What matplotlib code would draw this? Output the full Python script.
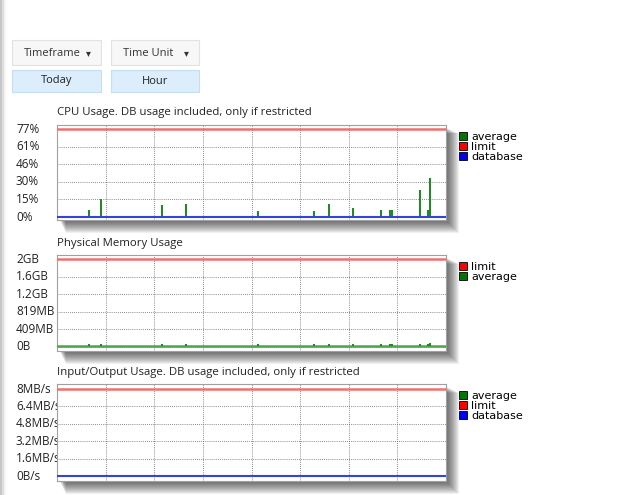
import matplotlib
matplotlib.use("Agg")
import matplotlib.pyplot as plt
from matplotlib.patches import Rectangle, Patch
from matplotlib.transforms import blended_transform_factory

W, H = 624, 495

# ---- data ----
hours = [0, 24]
hour_grid = [3, 6, 9, 12, 15, 18, 21]

cpu_spike_t = [1.97, 2.7, 6.48, 7.96, 12.4, 15.84, 16.78, 18.26, 19.99, 20.54, 20.67, 22.38, 22.9, 23.0]
cpu_spike_v = [6, 15.7, 10.5, 11.6, 5.5, 5.5, 11, 7.5, 6, 6, 6, 24, 6.5, 34]
cpu_limit = 77
cpu_db = 0
cpu_ticks = [0, 15.4, 30.8, 46.2, 61.6, 77]
cpu_labels = ["0%", "15%", "30%", "46%", "61%", "77%"]

mem_spike_t = [1.97, 2.7, 6.48, 7.96, 12.4, 15.84, 16.78, 18.26, 19.99, 20.54, 20.67, 22.38, 22.9, 23.0]
mem_spike_v = [55, 60, 55, 50, 45, 50, 55, 50, 45, 50, 50, 60, 45, 85]
mem_base = 12
mem_limit = 2048
mem_ticks = [0, 409.6, 819.2, 1228.8, 1638.4, 2048]
mem_labels = ["0B", "409MB", "819MB", "1.2GB", "1.6GB", "2GB"]

io_spike_t = [12.4]
io_spike_v = [0.08]
io_limit = 8
io_db = 0
io_ticks = [0, 1.6, 3.2, 4.8, 6.4, 8]
io_labels = ["0B/s", "1.6MB/s", "3.2MB/s", "4.8MB/s", "6.4MB/s", "8MB/s"]

GREEN = "#1e8c1e"
RED = "#f07070"
BLUE = "#3344dd"
FONT = ["Open Sans", "DejaVu Sans"]

fig = plt.figure(figsize=(W / 100, H / 100), dpi=100)
fig.patch.set_facecolor("white")


def fr(x0, y0, x1, y1):
    return [x0 / W, 1 - y1 / H, (x1 - x0) / W, (y1 - y0) / H]


def px_rect(x0, y0, x1, y1, **kw):
    r = Rectangle((x0 / W, 1 - y1 / H), (x1 - x0) / W, (y1 - y0) / H,
                  transform=fig.transFigure, **kw)
    fig.patches.append(r)
    return r


# page left shadow
for i, a in enumerate([0.10, 0.07, 0.04, 0.02]):
    px_rect(0, 0, 2 + i * 1.5, H, facecolor="black", edgecolor="none", alpha=a, zorder=-5)

# buttons
btns = [(12, 101, "Timeframe", "Today"), (111, 199, "Time Unit", "Hour")]
for x0, x1, top, sub in btns:
    px_rect(x0, 40, x1, 65, facecolor="#f7f7f7", edgecolor="#e2e2e2", lw=0.8)
    px_rect(x0, 70, x1, 92, facecolor="#dcedfc", edgecolor="#c6def3", lw=0.8)
    fig.text((x0 + 12) / W, 1 - 53 / H, top, ha="left", va="center",
             fontsize=8, family=FONT, color="#333333")
    fig.text((x1 - 13) / W, 1 - 53 / H, "▾", ha="center", va="center",
             fontsize=7, family=["DejaVu Sans"], color="#333333")
    fig.text((x0 + x1) / 2 / W, 1 - 81 / H, sub, ha="center", va="center",
             fontsize=8, family=FONT, color="#222222")


def chart(box, title, ylim, ticks, labels, avg_t, avg_v, limit, db, base, legend_items):
    x0, y0, x1, y1 = box
    # drop shadow
    for k in range(12):
        px_rect(x0 + 3 + k * 0.5, y0 + 3 + k * 0.5, x1 + 2 + k, y1 + 2 + k,
                facecolor="black", edgecolor="none", alpha=0.06, zorder=-3)
    ax = fig.add_axes(fr(x0, y0, x1, y1))
    ax.set_xlim(hours)
    ax.set_ylim(ylim)
    ax.set_xticks(hour_grid)
    ax.set_yticks(ticks)
    ax.tick_params(length=0, labelleft=False, labelbottom=False)
    ax.grid(True, color="#666666", linestyle=(0, (1, 1.5)), lw=0.6)
    for s in ax.spines.values():
        s.set_color("#a0a0a0")
        s.set_linewidth(0.8)
    if base is not None:
        ax.axhline(base, color="#4aa84a", lw=1.8, zorder=3)
    ax.bar(avg_t, avg_v, width=0.14, bottom=0 if base is None else base,
           color=GREEN, zorder=3)
    ax.axhline(limit, color=RED, lw=1.8, zorder=4)
    if db is not None:
        ax.axhline(db, color=BLUE, lw=1.5, zorder=5)
    fig.text(x0 / W, 1 - (y0 - 12) / H, title, ha="left", va="center",
             fontsize=8.2, family=FONT, color="#222222")
    tr = blended_transform_factory(fig.transFigure, ax.transData)
    for t, lab in zip(ticks, labels):
        fig.text(16 / W, t, lab, transform=tr, ha="left", va="center",
                 fontsize=8.5, family=FONT, color="#222222", zorder=-1)
    handles = [Patch(facecolor=c, edgecolor="black", lw=0.6, label=l) for l, c in legend_items]
    fig.legend(handles=handles, loc="upper left",
               bbox_to_anchor=(459 / W, 1 - (y0 + 7) / H), frameon=False,
               prop={"family": "DejaVu Sans", "size": 8},
               handlelength=0.75, handleheight=0.75, handletextpad=0.35,
               labelspacing=0.0, borderpad=0, borderaxespad=0)
    return ax


chart((57, 125, 446, 220), "CPU Usage. DB usage included, only if restricted",
      (-2.6, 80.5), cpu_ticks, cpu_labels, cpu_spike_t, cpu_spike_v,
      cpu_limit, cpu_db, None,
      [("average", "#007700"), ("limit", "#ff0000"), ("database", "#0000ff")])

chart((57, 255, 446, 351), "Physical Memory Usage",
      (-100, 2148), mem_ticks, mem_labels, mem_spike_t, mem_spike_v,
      mem_limit, None, mem_base,
      [("limit", "#ff0000"), ("average", "#007700")])

chart((57, 384, 446, 481), "Input/Output Usage. DB usage included, only if restricted",
      (-0.43, 8.46), io_ticks, io_labels, io_spike_t, io_spike_v,
      io_limit, io_db, None,
      [("average", "#007700"), ("limit", "#ff0000"), ("database", "#0000ff")])

fig.savefig("out.png", dpi=100)
